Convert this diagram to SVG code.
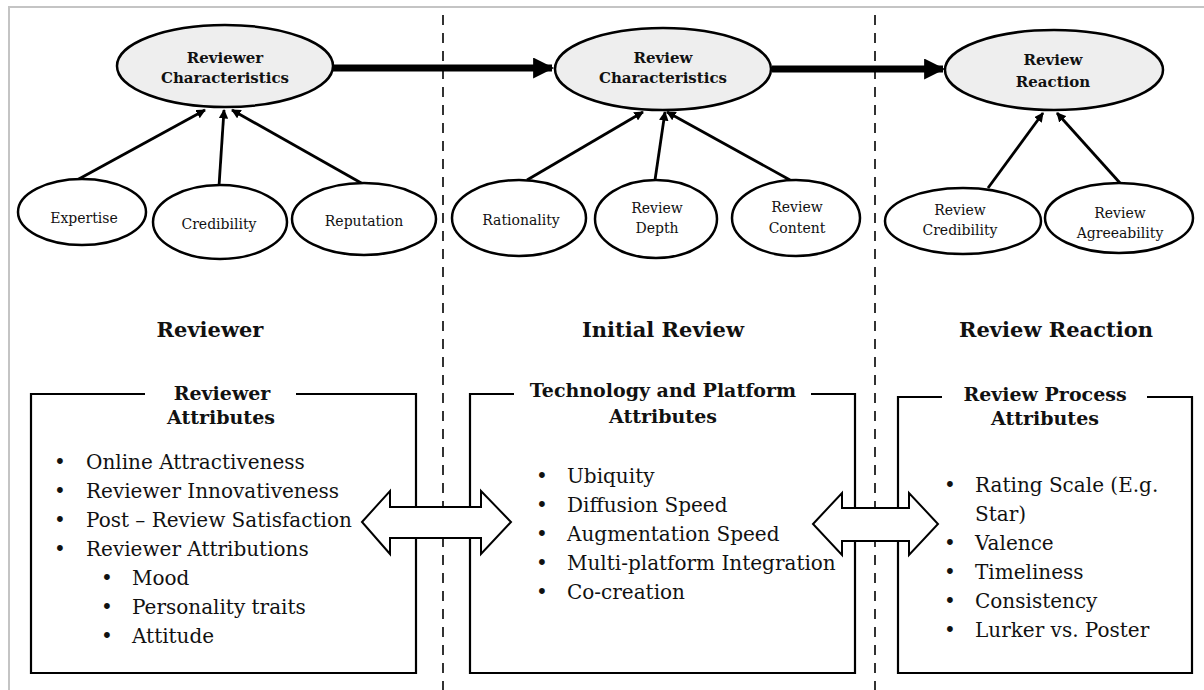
<svg xmlns="http://www.w3.org/2000/svg" width="1204" height="690" viewBox="0 0 1204 690">
<style>
.t{font-family:"DejaVu Serif","Liberation Serif",serif;fill:#111}
.tb{font-family:"DejaVu Serif","Liberation Serif",serif;font-weight:bold;fill:#111}
.big{font-size:15px}
.sm{font-size:14px}
.lab{font-size:21px}
.ttl{font-size:19px}
.li{font-size:20px}
.main{fill:#eeeeee;stroke:#000;stroke-width:2.5}
.sub{fill:#fff;stroke:#000;stroke-width:2.5}
.thin{stroke:#000;stroke-width:2.8;fill:none;marker-end:url(#ah)}
.thick{stroke:#000;stroke-width:7;fill:none;marker-end:url(#bh)}
.dash{stroke:#000;stroke-width:1.6;stroke-dasharray:10 8;fill:none}
.box{fill:none;stroke:#000;stroke-width:2.2}
.dbl{fill:#fff;stroke:#000;stroke-width:2}
</style>
<defs>
<marker id="ah" viewBox="0 0 10 10" refX="9" refY="5" markerWidth="3.4" markerHeight="3.4" orient="auto" markerUnits="strokeWidth">
<path d="M0,0 L10,5 L0,10 z" fill="#000"/>
</marker>
<marker id="bh" viewBox="0 0 10 10" refX="9" refY="5" markerWidth="3.2" markerHeight="3" orient="auto" markerUnits="strokeWidth">
<path d="M0,0 L10,5 L0,10 z" fill="#000"/>
</marker>
</defs>
<rect width="1204" height="690" fill="#fff"/>
<path d="M9,700 L9,7 L1210,7" fill="none" stroke="#c4c4c4" stroke-width="2"/>

<g id="dividers">
<line class="dash" x1="443" y1="15" x2="443" y2="690"/>
<line class="dash" x1="875" y1="15" x2="875" y2="690"/>
</g>

<g id="connectors">
<line class="thick" x1="333" y1="68" x2="552" y2="68"/>
<line class="thick" x1="772" y1="69" x2="943" y2="69"/>
<line class="thin" x1="77" y1="180" x2="205" y2="110"/>
<line class="thin" x1="219" y1="186" x2="224" y2="110"/>
<line class="thin" x1="363" y1="184" x2="232" y2="110"/>
<line class="thin" x1="527" y1="180" x2="643" y2="112"/>
<line class="thin" x1="655" y1="180" x2="665" y2="112"/>
<line class="thin" x1="790" y1="180" x2="667" y2="112"/>
<line class="thin" x1="988" y1="188" x2="1043" y2="113"/>
<line class="thin" x1="1120" y1="183" x2="1057" y2="113"/>
</g>

<g id="reviewer-characteristics">
<ellipse class="main" cx="225" cy="66" rx="108" ry="41"/>
<text class="tb big" x="225" y="63" text-anchor="middle">Reviewer</text>
<text class="tb big" x="225" y="83" text-anchor="middle">Characteristics</text>
</g>
<g id="review-characteristics">
<ellipse class="main" cx="663" cy="69" rx="108" ry="41"/>
<text class="tb big" x="663" y="63" text-anchor="middle">Review</text>
<text class="tb big" x="663" y="83" text-anchor="middle">Characteristics</text>
</g>
<g id="review-reaction">
<ellipse class="main" cx="1054" cy="70" rx="109" ry="40"/>
<text class="tb big" x="1053" y="65" text-anchor="middle">Review</text>
<text class="tb big" x="1053" y="87" text-anchor="middle">Reaction</text>
</g>

<g id="expertise">
<ellipse class="sub" cx="82" cy="212" rx="64" ry="33"/>
<text class="t sm" x="84" y="223" text-anchor="middle">Expertise</text>
</g>
<g id="credibility">
<ellipse class="sub" cx="220" cy="222" rx="67" ry="37"/>
<text class="t sm" x="219" y="229" text-anchor="middle">Credibility</text>
</g>
<g id="reputation">
<ellipse class="sub" cx="364" cy="219" rx="72" ry="36"/>
<text class="t sm" x="364" y="226" text-anchor="middle">Reputation</text>
</g>
<g id="rationality">
<ellipse class="sub" cx="519" cy="218" rx="67" ry="38"/>
<text class="t sm" x="521" y="225" text-anchor="middle">Rationality</text>
</g>
<g id="review-depth">
<ellipse class="sub" cx="656" cy="219" rx="61" ry="39"/>
<text class="t sm" x="657" y="213" text-anchor="middle">Review</text>
<text class="t sm" x="657" y="233" text-anchor="middle">Depth</text>
</g>
<g id="review-content">
<ellipse class="sub" cx="796" cy="218" rx="64" ry="38"/>
<text class="t sm" x="797" y="212" text-anchor="middle">Review</text>
<text class="t sm" x="797" y="233" text-anchor="middle">Content</text>
</g>
<g id="review-credibility">
<ellipse class="sub" cx="963" cy="221" rx="78" ry="33"/>
<text class="t sm" x="960" y="215" text-anchor="middle">Review</text>
<text class="t sm" x="960" y="235" text-anchor="middle">Credibility</text>
</g>
<g id="review-agreeability">
<ellipse class="sub" cx="1119" cy="218" rx="74" ry="35"/>
<text class="t sm" x="1120" y="218" text-anchor="middle">Review</text>
<text class="t sm" x="1120" y="238" text-anchor="middle">Agreeability</text>
</g>

<g id="section-labels">
<text class="tb lab" x="210" y="337" text-anchor="middle">Reviewer</text>
<text class="tb lab" x="663" y="337" text-anchor="middle">Initial Review</text>
<text class="tb lab" x="1056" y="337" text-anchor="middle">Review Reaction</text>
</g>

<g id="reviewer-attributes">
<path class="box" d="M145,394 L31,394 L31,673 L416,673 L416,394 L296,394"/>
<text class="tb ttl" x="222" y="400" text-anchor="middle">Reviewer</text>
<text class="tb ttl" x="221" y="424" text-anchor="middle">Attributes</text>
<g class="t li">
<text x="60" y="469" text-anchor="middle">•</text><text x="86" y="469">Online Attractiveness</text>
<text x="60" y="498" text-anchor="middle">•</text><text x="86" y="498">Reviewer Innovativeness</text>
<text x="60" y="527" text-anchor="middle">•</text><text x="86" y="527">Post – Review Satisfaction</text>
<text x="60" y="556" text-anchor="middle">•</text><text x="86" y="556">Reviewer Attributions</text>
<text x="107" y="585" text-anchor="middle">•</text><text x="132" y="585">Mood</text>
<text x="107" y="614" text-anchor="middle">•</text><text x="132" y="614">Personality traits</text>
<text x="107" y="643" text-anchor="middle">•</text><text x="132" y="643">Attitude</text>
</g>
</g>

<g id="technology-platform-attributes">
<path class="box" d="M514,394 L470,394 L470,673 L855,673 L855,394 L811,394"/>
<text class="tb ttl" x="663" y="397" text-anchor="middle">Technology and Platform</text>
<text class="tb ttl" x="663" y="423" text-anchor="middle">Attributes</text>
<g class="t li">
<text x="542" y="483" text-anchor="middle">•</text><text x="567" y="483">Ubiquity</text>
<text x="542" y="512" text-anchor="middle">•</text><text x="567" y="512">Diffusion Speed</text>
<text x="542" y="541" text-anchor="middle">•</text><text x="567" y="541">Augmentation Speed</text>
<text x="542" y="570" text-anchor="middle">•</text><text x="567" y="570">Multi-platform Integration</text>
<text x="542" y="599" text-anchor="middle">•</text><text x="567" y="599">Co-creation</text>
</g>
</g>

<g id="review-process-attributes">
<path class="box" d="M942,397 L898,397 L898,673 L1192,673 L1192,397 L1147,397"/>
<text class="tb ttl" x="1045" y="401" text-anchor="middle">Review Process</text>
<text class="tb ttl" x="1045" y="425" text-anchor="middle">Attributes</text>
<g class="t li">
<text x="950" y="492" text-anchor="middle">•</text><text x="975" y="492">Rating Scale (E.g.</text>
<text x="975" y="521">Star)</text>
<text x="950" y="550" text-anchor="middle">•</text><text x="975" y="550">Valence</text>
<text x="950" y="579" text-anchor="middle">•</text><text x="975" y="579">Timeliness</text>
<text x="950" y="608" text-anchor="middle">•</text><text x="975" y="608">Consistency</text>
<text x="950" y="637" text-anchor="middle">•</text><text x="975" y="637">Lurker vs. Poster</text>
</g>
</g>

<g id="double-arrows">
<polygon class="dbl" points="362,522 390,491 390,507 481,507 481,491 511,522 481,554 481,538 390,538 390,554"/>
<polygon class="dbl" points="813,524 842,493 842,508 909,508 909,493 938,524 909,555 909,541 842,541 842,555"/>
</g>
</svg>
